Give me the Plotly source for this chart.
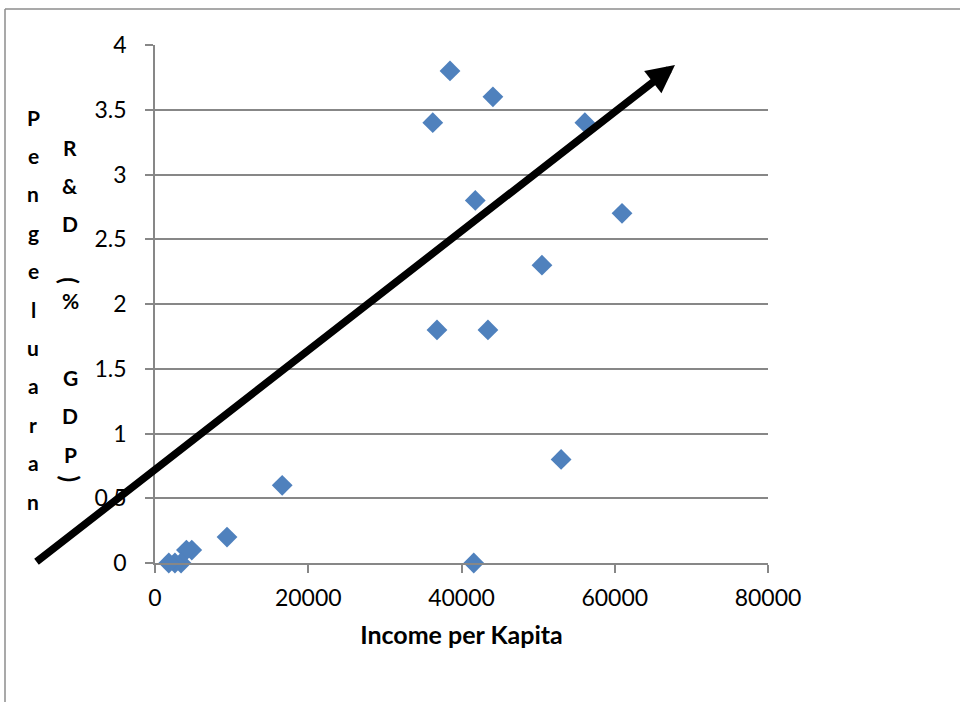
import plotly.graph_objects as go

# Income per capita vs R&D expenditure (% of GDP)
income = [36250, 38500, 44100, 56100, 41800, 60950, 50500, 36800, 43450,
          53000, 41600, 16600, 9400, 4800, 4100, 3400, 2600, 1800]
rnd_pct = [3.4, 3.8, 3.6, 3.4, 2.8, 2.7, 2.3, 1.8, 1.8,
           0.8, 0.0, 0.6, 0.2, 0.1, 0.1, 0.0, 0.0, 0.0]

x_ticks = [0, 20000, 40000, 60000, 80000]
y_ticks = [0, 0.5, 1, 1.5, 2, 2.5, 3, 3.5, 4]

# trend arrow (tail -> head) in data units
arrow_tail = (-15660, 0.0)
arrow_head = (67860, 3.846)

y_title_col1 = "Pengeluaran"
y_title_col2 = "R&D(% GDP)"

x_title = "Income per Kapita"

W, H = 960, 702
L, R, T, B = 155, 192, 45, 139
plot_w = W - L - R
plot_h = H - T - B

AXIS_GRAY = "#878787"
BLUE = "#4F81BD"
FONT = "Lato, Carlito, 'Liberation Sans', sans-serif"
TICK_SIZE = 23

fig = go.Figure()
fig.add_trace(go.Scatter(
    x=income, y=rnd_pct, mode="markers",
    marker=dict(symbol="diamond", size=16, color=BLUE, line=dict(width=0)),
    cliponaxis=False, showlegend=False, hoverinfo="x+y",
))

annotations = []


def px_to_paper(px, py):
    return (px - L) / plot_w, (H - B - py) / plot_h


# stacked vertical y-axis title, one character per line
step = 38.4
for i, ch in enumerate(y_title_col1):
    xp, yp = px_to_paper(33, 117 + i * step)
    annotations.append(dict(text=f"<b>{ch}</b>", x=xp, y=yp, xref="paper", yref="paper",
                            showarrow=False, xanchor="center", yanchor="middle",
                            font=dict(family=FONT, size=21, color="#000000")))

# brackets are turned sideways and nudged toward the neighbouring character
bracket_shift = {"(": 18, ")": -14}
for i, ch in enumerate(y_title_col2):
    if ch == " ":
        continue
    xp, yp = px_to_paper(70, 147 + i * step + bracket_shift.get(ch, 0))
    is_bracket = ch in bracket_shift
    annotations.append(dict(text=f"<b>{ch}</b>", x=xp, y=yp, xref="paper", yref="paper",
                            showarrow=False, xanchor="center", yanchor="middle",
                            textangle=90 if is_bracket else 0,
                            font=dict(family=FONT, size=24 if is_bracket else 21,
                                      color="#000000")))

# trend arrow
annotations.append(dict(
    x=arrow_head[0], y=arrow_head[1], ax=arrow_tail[0], ay=arrow_tail[1],
    xref="x", yref="y", axref="x", ayref="y", text="",
    showarrow=True, arrowhead=2, arrowsize=0.75, arrowwidth=7.5,
    arrowcolor="#000000", standoff=0, startstandoff=0,
))

# outer frame lines (left and top)
fx0, _ = px_to_paper(5, 0)
_, fy0 = px_to_paper(0, 9)
_, fyb = px_to_paper(0, H + 5)
fx1, _ = px_to_paper(W + 5, 0)
shapes = [
    dict(type="line", xref="paper", yref="paper", x0=fx0, x1=fx0, y0=fy0, y1=fyb,
         line=dict(color="#8c8c8c", width=1.5)),
    dict(type="line", xref="paper", yref="paper", x0=fx0, x1=fx1, y0=fy0, y1=fy0,
         line=dict(color="#8c8c8c", width=1.5)),
]

fig.update_layout(
    width=W, height=H,
    margin=dict(l=L, r=R, t=T, b=B, pad=0),
    paper_bgcolor="white", plot_bgcolor="white",
    font=dict(family=FONT, size=TICK_SIZE, color="#000000"),
    annotations=annotations, shapes=shapes,
    xaxis=dict(
        range=[0, 80000], tickvals=x_ticks, ticktext=[str(v) for v in x_ticks],
        showgrid=False, zeroline=False, showline=True, linecolor=AXIS_GRAY, linewidth=1.5,
        ticks="outside", ticklen=8, tickcolor=AXIS_GRAY, tickwidth=1.5,
        title=dict(text=f"<b>{x_title}</b>", font=dict(size=25), standoff=16),
        tickfont=dict(size=TICK_SIZE), ticklabelstandoff=6,
    ),
    yaxis=dict(
        range=[0, 4], tickvals=y_ticks, ticktext=[f"{v:g}" for v in y_ticks],
        showgrid=True, gridcolor=AXIS_GRAY, gridwidth=1.5,
        zeroline=False, showline=True, linecolor=AXIS_GRAY, linewidth=1.5,
        ticks="outside", ticklen=8, tickcolor=AXIS_GRAY, tickwidth=1.5,
        tickfont=dict(size=TICK_SIZE), ticklabelstandoff=14,
    ),
)

fig.write_html("out.html")
